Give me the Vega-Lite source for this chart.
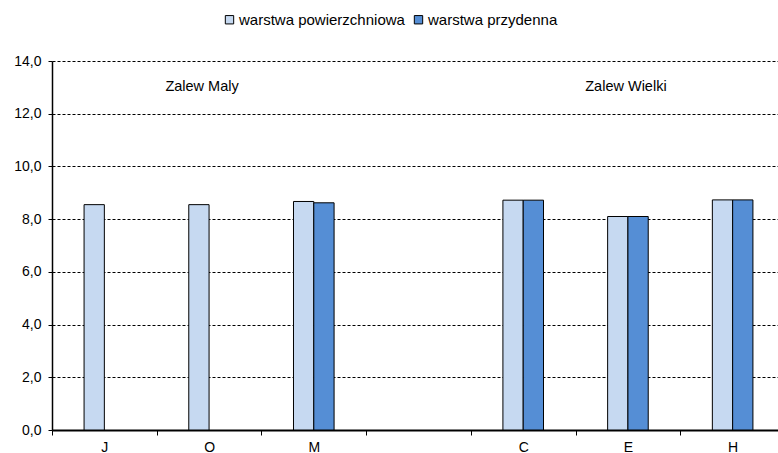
{
  "$schema": "https://vega.github.io/schema/vega-lite/v6.json",
  "width": 733,
  "height": 369,
  "autosize": {"type": "none"},
  "padding": {"left": 52, "top": 61, "right": 0, "bottom": 23},
  "config": {
    "view": {"stroke": null},
    "font": "Liberation Sans",
    "axis": {"labelFont": "Liberation Sans", "labelColor": "black", "labelFontSize": 14}
  },
  "datasets": {
    "bars": [
      {"stacja": "J", "warstwa": "warstwa powierzchniowa", "wartosc": 8.55},
      {"stacja": "O", "warstwa": "warstwa powierzchniowa", "wartosc": 8.55},
      {"stacja": "M", "warstwa": "warstwa powierzchniowa", "wartosc": 8.67},
      {"stacja": "M", "warstwa": "warstwa przydenna", "wartosc": 8.62},
      {"stacja": "C", "warstwa": "warstwa powierzchniowa", "wartosc": 8.72},
      {"stacja": "C", "warstwa": "warstwa przydenna", "wartosc": 8.72},
      {"stacja": "E", "warstwa": "warstwa powierzchniowa", "wartosc": 8.1},
      {"stacja": "E", "warstwa": "warstwa przydenna", "wartosc": 8.1},
      {"stacja": "H", "warstwa": "warstwa powierzchniowa", "wartosc": 8.73},
      {"stacja": "H", "warstwa": "warstwa przydenna", "wartosc": 8.73}
    ],
    "napisy": [
      {"stacja": "O", "y": 13, "napis": "Zalew Maly", "czesc": "a"},
      {"stacja": "E", "y": 13, "napis": "Zalew Wielki", "czesc": "b"}
    ]
  },
  "encoding": {
    "x": {
      "field": "stacja",
      "type": "nominal",
      "sort": null,
      "scale": {"domain": ["J", "O", "M", " ", "C", "E", "H"], "paddingInner": 0, "paddingOuter": 0},
      "axis": {
        "title": null,
        "labelAngle": 0,
        "tickBand": "extent",
        "domainColor": "black",
        "domainWidth": 2,
        "tickColor": "black",
        "tickSize": 5,
        "labelPadding": 5,
        "grid": false
      }
    },
    "y": {
      "field": "wartosc",
      "type": "quantitative",
      "scale": {"domain": [0, 14], "nice": false},
      "axis": {
        "title": null,
        "values": [0, 2, 4, 6, 8, 10, 12, 14],
        "labelExpr": "replace(format(datum.value, '.1f'), '.', ',')",
        "domainColor": "black",
        "domainWidth": 1.5,
        "tickColor": "black",
        "tickSize": 4,
        "labelPadding": 7,
        "grid": true,
        "gridColor": "black",
        "gridDash": [3, 2],
        "gridWidth": 1,
        "gridOpacity": 1
      }
    }
  },
  "layer": [
    {
      "data": {"name": "bars"},
      "mark": {"type": "bar", "stroke": "black", "strokeWidth": 1},
      "encoding": {
        "xOffset": {
          "field": "warstwa",
          "type": "nominal",
          "scale": {"domain": ["a0", "warstwa powierzchniowa", "warstwa przydenna", "z0"], "paddingInner": 0, "paddingOuter": 0.58}
        },
        "color": {
          "field": "warstwa",
          "type": "nominal",
          "scale": {"domain": ["warstwa powierzchniowa", "warstwa przydenna"], "range": ["#C6D9F1", "#558ED5"]},
          "legend": {
            "title": null,
            "orient": "none",
            "legendX": 170,
            "legendY": -49,
            "direction": "horizontal",
            "symbolType": "square",
            "symbolSize": 70,
            "symbolStrokeColor": "black",
            "symbolStrokeWidth": 1,
            "symbolOpacity": 1,
            "labelFontSize": 15,
            "labelLimit": 400,
            "labelColor": "black",
            "labelOffset": 2,
            "columnPadding": 6
          }
        }
      }
    },
    {
      "data": {"name": "napisy"},
      "transform": [{"filter": "datum.czesc == 'a'"}],
      "mark": {"type": "text", "align": "center", "dx": -7, "fontSize": 14.5, "color": "black", "baseline": "middle"},
      "encoding": {"text": {"field": "napis"}, "y": {"field": "y", "type": "quantitative"}}
    },
    {
      "data": {"name": "napisy"},
      "transform": [{"filter": "datum.czesc == 'b'"}],
      "mark": {"type": "text", "align": "center", "dx": -2, "fontSize": 14.5, "color": "black", "baseline": "middle"},
      "encoding": {"text": {"field": "napis"}, "y": {"field": "y", "type": "quantitative"}}
    }
  ]
}
